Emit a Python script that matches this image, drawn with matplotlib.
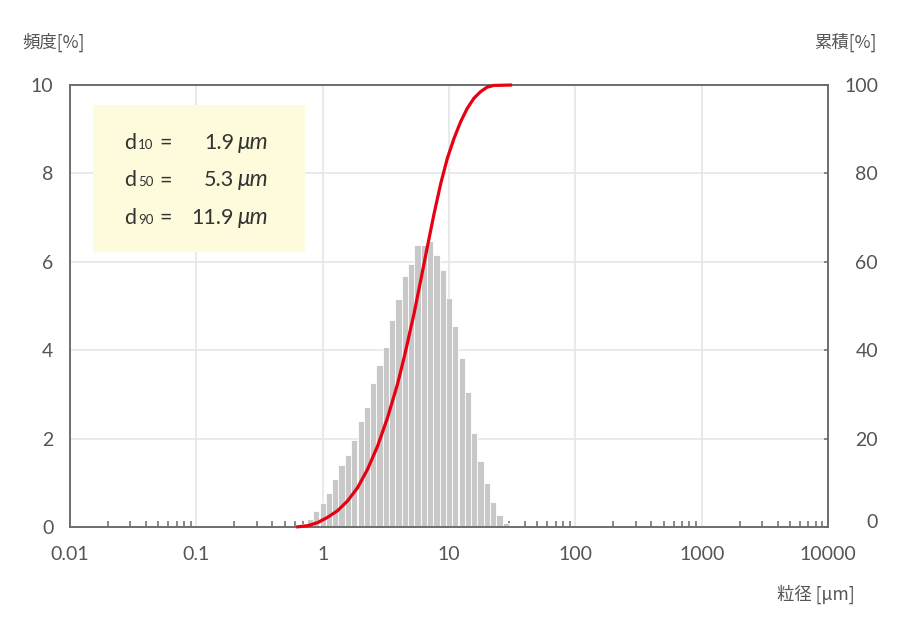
import matplotlib
matplotlib.use('Agg')
import matplotlib.pyplot as plt
import matplotlib.transforms as mtransforms
from matplotlib.ticker import LogLocator, FixedLocator, NullFormatter
from matplotlib.patches import Rectangle

# ---------------------------------------------------------------------------
# data
# ---------------------------------------------------------------------------
# channel centres [um], 20 channels per decade
bin_sizes = [0.631, 0.708, 0.794, 0.891, 1.0, 1.12, 1.26, 1.41, 1.58, 1.78,
             2.0, 2.24, 2.51, 2.82, 3.16, 3.55, 3.98, 4.47, 5.01, 5.62,
             6.31, 7.08, 7.94, 8.91, 10.0, 11.2, 12.6, 14.1, 15.8, 17.8,
             20.0, 22.4, 25.1, 28.2, 31.6]
freq = [0.02, 0.06, 0.19, 0.36, 0.54, 0.77, 1.09, 1.41, 1.64, 1.97,
        2.40, 2.72, 3.26, 3.67, 4.07, 4.68, 5.15, 5.69, 5.96, 6.38,
        6.37, 6.47, 6.16, 5.81, 5.18, 4.54, 3.83, 3.06, 2.12, 1.50,
        1.00, 0.57, 0.28, 0.09, 0.02]

# cumulative curve [um] -> [%]
cum_sizes = [0.617, 0.762, 0.914, 1.095, 1.313, 1.575, 1.89, 2.27, 2.72,
             3.26, 3.91, 4.41, 5.29, 5.98, 6.74, 7.62, 8.60, 9.70, 10.95,
             12.37, 13.94, 15.75, 17.8, 20.0, 22.6, 31.6]
cum_pct = [0, 0.3, 1.0, 2.2, 3.7, 5.9, 8.9, 13.1, 18.3,
           24.7, 32.3, 38.3, 48.3, 55.9, 63.4, 70.9, 77.7, 83.4, 87.9,
           91.7, 94.7, 97.0, 98.5, 99.5, 99.9, 100]

x_ticks = [0.01, 0.1, 1, 10, 100, 1000, 10000]
x_labels = ["0.01", "0.1", "1", "10", "100", "1000", "10000"]
y_left = [0, 2, 4, 6, 8, 10]
y_right = [0, 20, 40, 60, 80, 100]

stats = [("10", "1.9"), ("50", "5.3"), ("90", "11.9")]

# ---------------------------------------------------------------------------
W, H = 900, 636
GRAY = '#555555'
SPINE = '#6a6a6a'
GRID = '#e4e4e4'
RED = '#e60012'
NUMFONT = 'Lato'
JPFONT = ['Noto Sans CJK JP', 'DejaVu Sans']


def px(x, y):
    return x / W, 1 - y / H


fig = plt.figure(figsize=(W / 100, H / 100), dpi=100)
ax = fig.add_axes([70 / W, 1 - 527 / H, 758 / W, 442 / H])

half = 10 ** 0.025
lefts = [s / half for s in bin_sizes]
widths = [s * half - s / half for s in bin_sizes]
ax.bar(lefts, freq, width=widths, align='edge', color='#c8c8c8',
       edgecolor='white', linewidth=0.6, zorder=1)

ax.set_xscale('log')
ax.set_xlim(0.01, 10000)
ax.set_ylim(0, 10)
ax.set_axisbelow(True)
ax.xaxis.set_major_locator(FixedLocator(x_ticks))
ax.set_xticklabels(x_labels)
ax.xaxis.set_minor_locator(LogLocator(base=10, subs=range(2, 10), numticks=20))
ax.xaxis.set_minor_formatter(NullFormatter())
ax.set_yticks(y_left)
ax.grid(True, which='major', color=GRID, linewidth=1.1)
ax.tick_params(axis='x', which='major', length=0, pad=14, labelsize=14,
               labelcolor=GRAY)
ax.tick_params(axis='x', which='minor', direction='in', length=4.5,
               width=1.1, color=SPINE)
ax.tick_params(axis='y', length=0, pad=12, labelsize=14, labelcolor=GRAY)
for lab in ax.get_xticklabels() + ax.get_yticklabels():
    lab.set_fontfamily(NUMFONT)
for sp in ax.spines.values():
    sp.set_color(SPINE)
    sp.set_linewidth(1.1)

# yellow box with d-values
ax.add_patch(Rectangle((23 / 758, (527 - 252) / 442), 212 / 758, 147 / 442,
                       transform=ax.transAxes, facecolor='#fdfbdc',
                       edgecolor='none', zorder=1.5))

ax2 = ax.twinx()
ax2.plot(cum_sizes, cum_pct, color=RED, linewidth=2.3, zorder=3,
         clip_on=False, solid_capstyle='butt', solid_joinstyle='round')
ax2.set_ylim(0, 100)
ax2.set_yticks(y_right)
ax2.tick_params(axis='y', direction='in', length=3, width=1.1, color=SPINE,
                pad=36, labelsize=14, labelcolor=GRAY)
for lab in ax2.get_yticklabels():
    lab.set_fontfamily(NUMFONT)
    lab.set_horizontalalignment('right')
for sp in ax2.spines.values():
    sp.set_color(SPINE)
    sp.set_linewidth(1.1)

# the "0" on the right sits a little higher in the original
t0 = ax2.yaxis.get_major_ticks()[0].label2
t0.set_transform(t0.get_transform() +
                 mtransforms.ScaledTranslation(0, 6 / 100, fig.dpi_scale_trans))

# text inside the box
TXT = '#333333'
for i, (sub, val) in enumerate(stats):
    yb = 149 + i * 37.5
    fig.text(*px(124, yb), "d", fontsize=15.5, family=NUMFONT, color=TXT,
             va='baseline', ha='left')
    fig.text(*px(138, yb), sub, fontsize=9.5, family=NUMFONT, color=TXT,
             va='baseline', ha='left')
    fig.text(*px(159, yb), "=", fontsize=15.5, family=NUMFONT, color=TXT,
             va='baseline', ha='left')
    fig.text(*px(234, yb), val, fontsize=15.5, family=NUMFONT, color=TXT,
             va='baseline', ha='right')
    fig.text(*px(238, yb), "μm", fontsize=16.5, family=NUMFONT, color=TXT,
             va='baseline', ha='left', style='italic')

# axis titles
fig.text(*px(22, 42), "頻度[%]", fontsize=12.5, family=JPFONT, color=GRAY,
         va='center', ha='left')
fig.text(*px(877, 42), "累積[%]", fontsize=12.5, family=JPFONT, color=GRAY,
         va='center', ha='right')
fig.text(*px(855, 594), "粒径 [μm]", fontsize=12.5, family=JPFONT, color=GRAY,
         va='center', ha='right')

fig.savefig('out.png', dpi=100)
